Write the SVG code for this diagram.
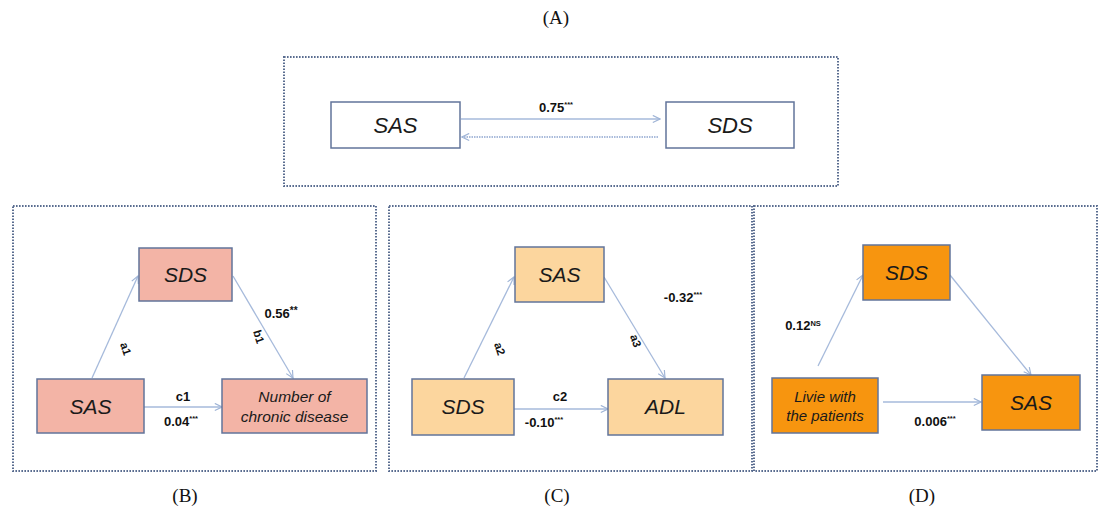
<svg xmlns="http://www.w3.org/2000/svg" width="1103" height="516" viewBox="0 0 1103 516">
<style>
.panel{fill:none;stroke:#5a6d90;stroke-width:2;stroke-dasharray:1.6 1.4}
.node{stroke:#62749a;stroke-width:1.5}
.w{fill:#ffffff}.b{fill:#f3b4a6}.c{fill:#fcd69e}.d{fill:#f7950f}
.lab{font-family:"Liberation Sans",Arial,sans-serif;font-style:italic;fill:#1a1a1a;text-anchor:middle}
.val{font-family:"Liberation Sans",Arial,sans-serif;font-weight:bold;font-size:13px;fill:#111;text-anchor:middle}
.rot{font-family:"Liberation Sans",Arial,sans-serif;font-weight:bold;font-size:11.5px;fill:#111;text-anchor:middle}
.sup{font-size:7.5px}
.ttl{font-family:"Liberation Serif","Times New Roman",serif;font-size:19px;fill:#111;text-anchor:middle}
.edge{stroke:#a6badb;stroke-width:1.3;fill:none}
.dot{stroke:#8fa6d0;stroke-width:1.6;fill:none;stroke-dasharray:1.5 1}
</style>
<defs>
<marker id="ah" viewBox="0 0 10 10" refX="9" refY="5" markerWidth="9" markerHeight="9" markerUnits="userSpaceOnUse" orient="auto">
<path d="M1,1 L9,5 L1,9" fill="none" stroke="#9fb4d6" stroke-width="1.3"/>
</marker>
</defs>

<text class="ttl" x="556" y="24">(A)</text>
<text class="ttl" x="185" y="502">(B)</text>
<text class="ttl" x="557" y="502">(C)</text>
<text class="ttl" x="922" y="502">(D)</text>

<g id="panels">
<rect class="panel" x="284" y="57" width="554" height="129"/>
<rect class="panel" x="13" y="206" width="363" height="265"/>
<rect class="panel" x="389" y="206" width="363" height="265"/>
<rect class="panel" x="754" y="206" width="343" height="265"/>
</g>

<g id="connectors">
<line class="edge" x1="461" y1="119" x2="660" y2="119" marker-end="url(#ah)"/>
<line class="dot" x1="658" y1="137" x2="462" y2="137" marker-end="url(#ah)"/>
<line class="edge" x1="92" y1="378" x2="138" y2="276" marker-end="url(#ah)"/>
<line class="edge" x1="233" y1="276" x2="293" y2="378" marker-end="url(#ah)"/>
<line class="edge" x1="144" y1="407" x2="222" y2="407" marker-end="url(#ah)"/>
<line class="edge" x1="464" y1="378" x2="514" y2="277" marker-end="url(#ah)"/>
<line class="edge" x1="604" y1="277" x2="665" y2="378" marker-end="url(#ah)"/>
<line class="edge" x1="514" y1="409" x2="608" y2="409" marker-end="url(#ah)"/>
<line class="edge" x1="818" y1="366" x2="863" y2="275" marker-end="url(#ah)"/>
<line class="edge" x1="950" y1="275" x2="1031" y2="375" marker-end="url(#ah)"/>
<line class="edge" x1="883" y1="402" x2="981" y2="402" marker-end="url(#ah)"/>
</g>

<g id="edge-labels">
<text class="val" x="556" y="112">0.75<tspan class="sup" dy="-5">***</tspan></text>
<text class="rot" x="122" y="350" transform="rotate(72 122 350)">a1</text>
<text class="rot" x="255" y="338" transform="rotate(72 255 338)">b1</text>
<text class="val" x="281" y="318">0.56<tspan class="sup" dy="-4" style="font-size:10px">**</tspan></text>
<text class="val" x="183" y="401">c1</text>
<text class="val" x="181" y="426">0.04<tspan class="sup" dy="-5">***</tspan></text>
<text class="rot" x="496" y="350" transform="rotate(72 496 350)">a2</text>
<text class="rot" x="632" y="342" transform="rotate(72 632 342)">a3</text>
<text class="val" x="683" y="302">-0.32<tspan class="sup" dy="-5">***</tspan></text>
<text class="val" x="560" y="401">c2</text>
<text class="val" x="544" y="427">-0.10<tspan class="sup" dy="-5">***</tspan></text>
<text class="val" x="803" y="330">0.12<tspan class="sup" dy="-4">NS</tspan></text>
<text class="val" x="935" y="426">0.006<tspan class="sup" dy="-5">***</tspan></text>
</g>

<g id="A-SAS"><rect class="node w" x="331" y="102" width="129" height="46"/><text class="lab" x="395.5" y="133" font-size="22">SAS</text></g>
<g id="A-SDS"><rect class="node w" x="666" y="102" width="128" height="46"/><text class="lab" x="730" y="133" font-size="22">SDS</text></g>

<g id="B-SDS"><rect class="node b" x="139" y="248" width="93" height="53"/><text class="lab" x="185.5" y="282" font-size="21">SDS</text></g>
<g id="B-SAS"><rect class="node b" x="37" y="379" width="107" height="54"/><text class="lab" x="90.5" y="414" font-size="21">SAS</text></g>
<g id="B-NCD"><rect class="node b" x="222" y="379" width="145" height="54"/><text class="lab" x="294.5" y="402" font-size="15.5">Number of</text><text class="lab" x="294.5" y="422" font-size="15.5">chronic disease</text></g>

<g id="C-SAS"><rect class="node c" x="515" y="247" width="89" height="55"/><text class="lab" x="559.5" y="282" font-size="21">SAS</text></g>
<g id="C-SDS"><rect class="node c" x="412" y="379" width="102" height="56"/><text class="lab" x="463" y="414" font-size="21">SDS</text></g>
<g id="C-ADL"><rect class="node c" x="608" y="379" width="115" height="56"/><text class="lab" x="665.5" y="414" font-size="21">ADL</text></g>

<g id="D-SDS"><rect class="node d" x="863" y="245" width="87" height="55"/><text class="lab" x="906.5" y="280" font-size="21">SDS</text></g>
<g id="D-Live"><rect class="node d" x="772" y="378" width="106" height="55"/><text class="lab" x="825" y="402" font-size="15">Livie with</text><text class="lab" x="825" y="421" font-size="15">the patients</text></g>
<g id="D-SAS"><rect class="node d" x="982" y="375" width="98" height="55"/><text class="lab" x="1031" y="410" font-size="21">SAS</text></g>
</svg>
